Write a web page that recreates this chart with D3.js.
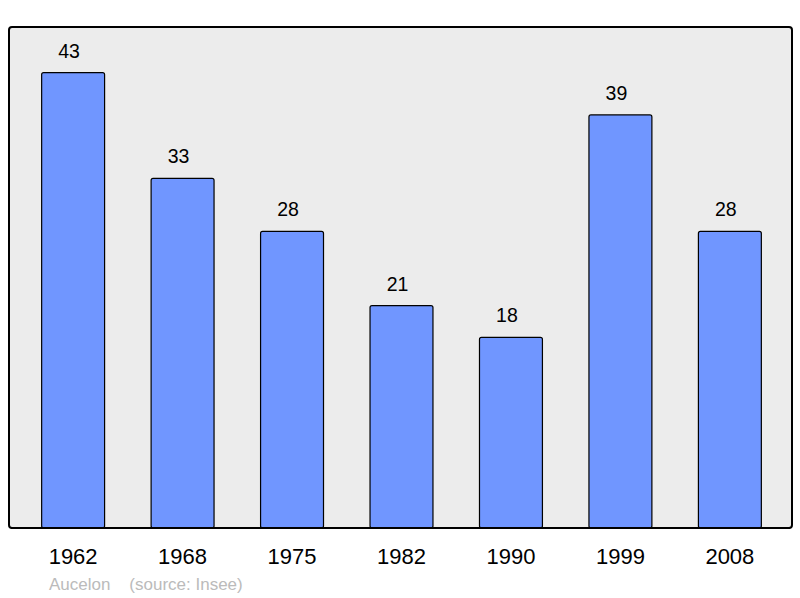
<html>
<head>
    <script type="text/javascript" src="https://d3js.org/d3.v7.min.js"></script>
    <style>
	body { margin: 0; background: #fff; font-family: "Liberation Sans", Arial, sans-serif; }
	</style>
</head>
<body>
<svg class="chart" width=800 height=598></svg>
<script>

var years = ["1962", "1968", "1975", "1982", "1990", "1999", "2008"];
var population = [43, 33, 28, 21, 18, 39, 28];
var commune = "Aucelon";
var source = "(source: Insee)";

var svg = d3.select("svg.chart");

var plotLeft = 9, plotRight = 792, plotTop = 27, plotBottom = 528;

var x = d3.scaleBand()
		.domain(years)
		.range([plotLeft + 2, plotRight])
		.paddingInner(0.425)
		.paddingOuter(0.28);

var y = d3.scaleLinear()
		.domain([0, d3.max(population) * 1.1])
		.range([plotBottom, plotTop]);

svg.append("rect")
	.attr("x", plotLeft)
	.attr("y", plotTop)
	.attr("width", plotRight - plotLeft)
	.attr("height", plotBottom - plotTop)
	.attr("rx", 3)
	.style("fill", "#ececec")
	.style("stroke", "#000")
	.style("stroke-width", 2);

svg.selectAll(".bar").data(population)
	.enter()
	.append("rect")
	.attr("class", "bar")
	.attr("x", function (d, i){ return x(years[i]) })
	.attr("y", function (d){ return y(d) })
	.attr("width", x.bandwidth())
	.attr("height", function (d){ return plotBottom - y(d) })
	.attr("rx", 2)
	.style("fill", "#7096ff")
	.style("stroke", "#000")
	.style("stroke-width", 1.2);

// redraw bottom edge of frame over bars
svg.append("line")
	.attr("x1", plotLeft + 2).attr("x2", plotRight - 2)
	.attr("y1", plotBottom).attr("y2", plotBottom)
	.style("stroke", "#000")
	.style("stroke-width", 2);

svg.selectAll(".val").data(population)
	.enter()
	.append("text")
	.attr("x", function (d, i){ return x(years[i]) + x.bandwidth() / 2 - 4 })
	.attr("y", function (d){ return y(d) - 15 })
	.attr("text-anchor", "middle")
	.style("font-size", "19.5px")
	.style("fill", "#000")
	.text(function (d){ return d });

svg.selectAll(".year").data(years)
	.enter()
	.append("text")
	.attr("x", function (d){ return x(d) + x.bandwidth() / 2 })
	.attr("y", 564)
	.attr("text-anchor", "middle")
	.style("font-size", "22px")
	.style("fill", "#000")
	.text(function (d){ return d });

svg.append("text")
	.attr("x", 49)
	.attr("y", 590)
	.style("font-size", "17px")
	.style("fill", "#bbb")
	.style("white-space", "pre")
	.text(commune + "    " + source);

</script>
</body>
</html>
